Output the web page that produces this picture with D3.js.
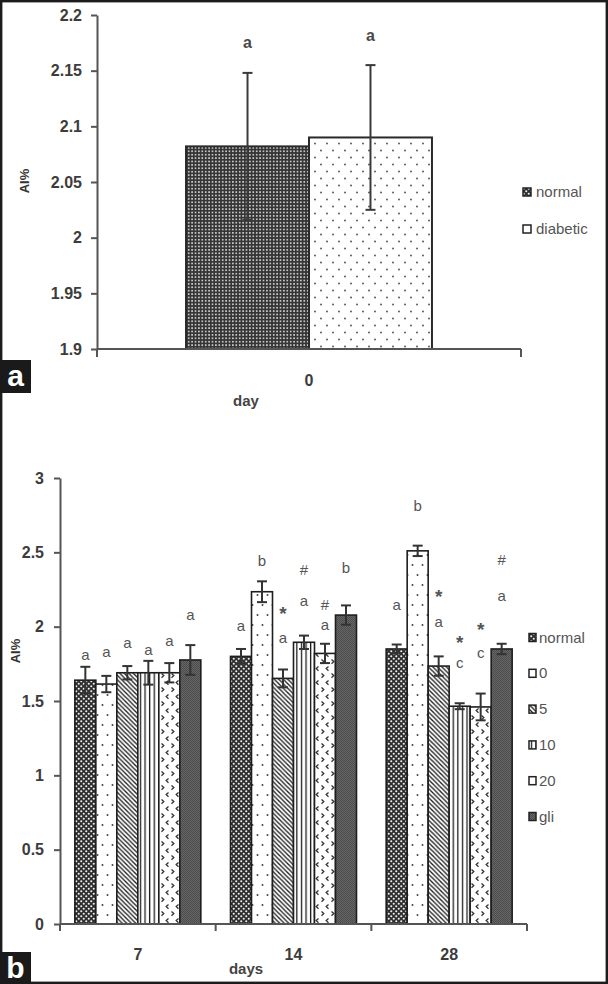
<!DOCTYPE html>
<html><head><meta charset="utf-8">
<script src="https://cdn.jsdelivr.net/npm/d3@7"></script>
<style>body{margin:0;background:#fff}svg{display:block}</style>
</head><body><svg id="c" width="608" height="984"></svg>
<script>
// ---------- Panel a data ----------
const aCategories = ["0"];
const aSeries = ["normal", "diabetic"];
const aValues = [2.082, 2.09];
const aErrors = [0.066, 0.065];
const aLetters = ["a", "a"];
const aLetterLevels = [2.175, 2.181];
const aTicks = [1.9, 1.95, 2, 2.05, 2.1, 2.15, 2.2];

// ---------- Panel b data ----------
const bDays = ["7", "14", "28"];
const bSeries = ["normal", "0", "5", "10", "20", "gli"];
const bNormal = [1.64, 1.80, 1.85];
const bNormalErr = [0.09, 0.05, 0.03];
const b0 = [1.614, 2.235, 2.51];
const b0Err = [0.055, 0.07, 0.035];
const b5 = [1.69, 1.652, 1.735];
const b5Err = [0.045, 0.06, 0.065];
const b10 = [1.69, 1.895, 1.465];
const b10Err = [0.08, 0.045, 0.02];
const b20 = [1.69, 1.82, 1.46];
const b20Err = [0.065, 0.065, 0.09];
const bGli = [1.776, 2.078, 1.85];
const bGliErr = [0.1, 0.065, 0.035];
const bTicks = [0, 0.5, 1, 1.5, 2, 2.5, 3];
// annotation letters per series per day: [text, level]
const bNotesNormal = [[["a", 1.81]], [["a", 2.0]], [["a", 2.145]]];
const bNotes0 = [[["a", 1.83]], [["b", 2.437]], [["b", 2.807]]];
const bNotes5 = [[["a", 1.89]], [["*", 2.125], ["a", 1.92]], [["*", 2.24], ["a", 2.033]]];
const bNotes10 = [[["a", 1.84]], [["#", 2.38], ["a", 2.168]], [["*", 1.932], ["c", 1.757]]];
const bNotes20 = [[["a", 1.90]], [["#", 2.145], ["a", 2.01]], [["*", 2.018], ["c", 1.82]]];
const bNotesGli = [[["a", 2.08]], [["b", 2.39]], [["#", 2.448], ["a", 2.206]]];

const bValues = [bNormal, b0, b5, b10, b20, bGli];
const bErrors = [bNormalErr, b0Err, b5Err, b10Err, b20Err, bGliErr];
const bNotes = [bNotesNormal, bNotes0, bNotes5, bNotes10, bNotes20, bNotesGli];

const svg = d3.select("#c");
const FONT = "'Liberation Sans', Arial, sans-serif";
const defs = svg.append("defs");

function pat(id, w, h, build) {
  const p = defs.append("pattern").attr("id", id).attr("patternUnits", "userSpaceOnUse")
    .attr("width", w).attr("height", h);
  build(p);
}
// panel a patterns
pat("pa-normal", 3.4, 3.4, p => {
  p.append("rect").attr("width", 3.4).attr("height", 3.4).attr("fill", "#353535");
  p.append("circle").attr("cx", 1.7).attr("cy", 1.7).attr("r", 0.85).attr("fill", "#f4f4f4");
});
pat("pa-dots", 12, 14, p => {
  p.append("rect").attr("width", 12).attr("height", 14).attr("fill", "#fff");
  p.append("circle").attr("cx", 3).attr("cy", 3.5).attr("r", 0.95).attr("fill", "#555");
  p.append("circle").attr("cx", 9).attr("cy", 10.5).attr("r", 0.95).attr("fill", "#555");
});
// panel b patterns
pat("pb-normal", 5, 5, p => {
  p.append("rect").attr("width", 5).attr("height", 5).attr("fill", "#2f2f2f");
  p.append("circle").attr("cx", 1.25).attr("cy", 1.25).attr("r", 1.05).attr("fill", "#eee");
  p.append("circle").attr("cx", 3.75).attr("cy", 3.75).attr("r", 1.05).attr("fill", "#eee");
});
pat("pb-dots", 10, 20, p => {
  p.append("rect").attr("width", 10).attr("height", 20).attr("fill", "#fff");
  p.append("circle").attr("cx", 2.5).attr("cy", 5).attr("r", 1).attr("fill", "#444");
  p.append("circle").attr("cx", 7.5).attr("cy", 15).attr("r", 1).attr("fill", "#444");
});
pat("pb-diag", 4.5, 4.5, p => {
  p.append("rect").attr("width", 4.5).attr("height", 4.5).attr("fill", "#fff");
  p.append("path").attr("d", "M-1,-1L5.5,5.5M-1,3.5L1,5.5M3.5,-1L5.5,1")
    .attr("stroke", "#1e1e1e").attr("stroke-width", 1.3);
});
pat("pb-vert", 4.6, 10, p => {
  p.append("rect").attr("width", 4.6).attr("height", 10).attr("fill", "#fff");
  p.append("rect").attr("x", 1.8).attr("width", 1.3).attr("height", 10).attr("fill", "#1e1e1e");
});
pat("pb-chev", 10, 14, p => {
  p.append("rect").attr("width", 10).attr("height", 14).attr("fill", "#fff");
  p.append("path").attr("d", "M1.5,1.5L3.8,3.6L1.5,5.7M8.5,8.5L6.2,10.6L8.5,12.7")
    .attr("stroke", "#333").attr("stroke-width", 1.3).attr("fill", "none");
});
pat("pb-gli", 2, 2, p => {
  p.append("rect").attr("width", 2).attr("height", 2).attr("fill", "#666");
  p.append("rect").attr("width", 1).attr("height", 1).attr("fill", "#4c4c4c");
  p.append("rect").attr("x", 1).attr("y", 1).attr("width", 1).attr("height", 1).attr("fill", "#4c4c4c");
});
const aFills = ["url(#pa-normal)", "url(#pa-dots)"];
const aLegendFills = ["url(#pb-normal)", "#fff"];
const bFills = ["url(#pb-normal)", "url(#pb-dots)", "url(#pb-diag)", "url(#pb-vert)", "url(#pb-chev)", "url(#pb-gli)"];
const bLegendFills = ["url(#pb-normal)", "#fff", "url(#pb-diag)", "url(#pb-vert)", "#fff", "url(#pb-gli)"];

// ================= Panel a =================
const aX0 = d3.scaleBand().domain(aCategories).range([97, 521]).paddingInner(0).paddingOuter(0);
const aX1 = d3.scaleBand().domain(aSeries).range([0, aX0.bandwidth()]).paddingInner(0).paddingOuter(0.724);
const aY = d3.scaleLinear().domain([1.9, 2.2]).range([349, 15]);

const gA = svg.append("g");
const aBars = aSeries.map((s, i) => ({s, v: aValues[i], e: aErrors[i], l: aLetters[i], lv: aLetterLevels[i], i}));
gA.selectAll("rect.bar").data(aBars).join("rect")
  .attr("x", d => aX0(aCategories[0]) + aX1(d.s))
  .attr("y", d => aY(d.v))
  .attr("width", aX1.bandwidth())
  .attr("height", d => aY(1.9) - aY(d.v))
  .attr("fill", d => aFills[d.i]).attr("stroke", "#2a2a2a").attr("stroke-width", 2);
aBars.forEach(d => {
  const cx = aX0(aCategories[0]) + aX1(d.s) + aX1.bandwidth() / 2;
  gA.append("line").attr("x1", cx).attr("x2", cx).attr("y1", aY(d.v + d.e)).attr("y2", aY(d.v - d.e))
    .attr("stroke", "#3a3a3a").attr("stroke-width", 2);
  gA.append("line").attr("x1", cx - 5).attr("x2", cx + 5).attr("y1", aY(d.v + d.e)).attr("y2", aY(d.v + d.e))
    .attr("stroke", "#3a3a3a").attr("stroke-width", 2);
  gA.append("line").attr("x1", cx - 5).attr("x2", cx + 5).attr("y1", aY(d.v - d.e)).attr("y2", aY(d.v - d.e))
    .attr("stroke", "#3a3a3a").attr("stroke-width", 2);
  gA.append("text").attr("x", cx).attr("y", aY(d.lv)).attr("dy", "0.32em").attr("text-anchor", "middle")
    .attr("font-family", FONT).attr("font-size", 16).attr("font-weight", "bold").attr("fill", "#4a4a4a").text(d.l);
});
// y axis
const aAxis = gA.append("g").attr("transform", "translate(97,0)")
  .call(d3.axisLeft(aY).tickValues(aTicks).tickSize(6).tickSizeOuter(0).tickPadding(9).tickFormat(d => String(d)));
aAxis.selectAll("path,line").attr("stroke", "#555").attr("stroke-width", 2);
aAxis.selectAll("text").attr("font-family", FONT).attr("font-size", 16).attr("font-weight", "bold").attr("fill", "#3c3c3c");
// x axis
gA.append("line").attr("x1", aX0.range()[0]).attr("x2", aX0.range()[1]).attr("y1", aY(1.9)).attr("y2", aY(1.9))
  .attr("stroke", "#555").attr("stroke-width", 2);
[aX0.range()[0], aX0.range()[1]].forEach(x => gA.append("line").attr("x1", x).attr("x2", x)
  .attr("y1", aY(1.9)).attr("y2", aY(1.9) + 8).attr("stroke", "#555").attr("stroke-width", 2));
aCategories.forEach(c => gA.append("text").attr("x", aX0(c) + aX0.bandwidth() / 2).attr("y", 386)
  .attr("text-anchor", "middle").attr("font-family", FONT).attr("font-size", 16).attr("font-weight", "bold")
  .attr("fill", "#3c3c3c").text(c));
gA.append("text").attr("x", 246).attr("y", 406).attr("text-anchor", "middle").attr("font-family", FONT)
  .attr("font-size", 15).attr("font-weight", "bold").attr("fill", "#444").text("day");
gA.append("text").attr("transform", "translate(29,181) rotate(-90)").attr("text-anchor", "middle")
  .attr("font-family", FONT).attr("font-size", 13).attr("font-weight", "bold").attr("fill", "#333").text("AI%");
// legend a
aSeries.forEach((s, i) => {
  const cy = 192 + i * 37;
  gA.append("rect").attr("x", 523).attr("y", cy - 4).attr("width", 8).attr("height", 8)
    .attr("fill", aLegendFills[i]).attr("stroke", "#222").attr("stroke-width", 1.5);
  gA.append("text").attr("x", 536).attr("y", cy + 5).attr("font-family", FONT).attr("font-size", 15)
    .attr("fill", "#555").text(s);
});

// ================= Panel b =================
const bX0 = d3.scaleBand().domain(bDays).range([60, 527]).paddingInner(0).paddingOuter(0);
const bX1 = d3.scaleBand().domain(bSeries).range([0, bX0.bandwidth()]).paddingInner(0).paddingOuter(0.707);
const bY = d3.scaleLinear().domain([0, 3]).range([924, 478]);
const gB = svg.append("g");
const bBars = [];
bSeries.forEach((s, si) => bDays.forEach((d, di) => bBars.push({
  s, si, d, v: bValues[si][di], e: bErrors[si][di], notes: bNotes[si][di]
})));
gB.selectAll("rect.bar").data(bBars).join("rect")
  .attr("x", d => bX0(d.d) + bX1(d.s))
  .attr("y", d => bY(d.v))
  .attr("width", bX1.bandwidth())
  .attr("height", d => bY(0) - bY(d.v))
  .attr("fill", d => bFills[d.si]).attr("stroke", "#1e1e1e").attr("stroke-width", 1.6);
bBars.forEach(d => {
  const cx = bX0(d.d) + bX1(d.s) + bX1.bandwidth() / 2;
  gB.append("line").attr("x1", cx).attr("x2", cx).attr("y1", bY(d.v + d.e)).attr("y2", bY(d.v - d.e))
    .attr("stroke", "#333").attr("stroke-width", 2);
  [d.v + d.e, d.v - d.e].forEach(v => gB.append("line").attr("x1", cx - 5).attr("x2", cx + 5)
    .attr("y1", bY(v)).attr("y2", bY(v)).attr("stroke", "#333").attr("stroke-width", 2));
  d.notes.forEach(n => gB.append("text").attr("x", cx).attr("y", bY(n[1]))
    .attr("dy", n[0] === "*" ? "0.62em" : "0.32em").attr("text-anchor", "middle")
    .attr("font-family", FONT).attr("font-size", n[0] === "*" ? 19 : 15)
    .attr("font-weight", n[0] === "*" ? "bold" : "normal").attr("fill", "#555").text(n[0]));
});
const bAxis = gB.append("g").attr("transform", "translate(60,0)")
  .call(d3.axisLeft(bY).tickValues(bTicks).tickSize(6).tickSizeOuter(0).tickPadding(10).tickFormat(d => String(d)));
bAxis.selectAll("path,line").attr("stroke", "#555").attr("stroke-width", 2);
bAxis.selectAll("text").attr("font-family", FONT).attr("font-size", 16).attr("font-weight", "bold").attr("fill", "#3c3c3c");
gB.append("line").attr("x1", bX0.range()[0]).attr("x2", bX0.range()[1]).attr("y1", bY(0)).attr("y2", bY(0))
  .attr("stroke", "#555").attr("stroke-width", 2);
bDays.map(d => bX0(d)).concat([bX0.range()[1]]).forEach(x => gB.append("line").attr("x1", x).attr("x2", x)
  .attr("y1", bY(0)).attr("y2", bY(0) + 7).attr("stroke", "#555").attr("stroke-width", 2));
bDays.forEach(c => gB.append("text").attr("x", bX0(c) + bX0.bandwidth() / 2).attr("y", 960)
  .attr("text-anchor", "middle").attr("font-family", FONT).attr("font-size", 16).attr("font-weight", "bold")
  .attr("fill", "#3c3c3c").text(c));
gB.append("text").attr("x", 246).attr("y", 974).attr("text-anchor", "middle").attr("font-family", FONT)
  .attr("font-size", 15).attr("font-weight", "bold").attr("fill", "#444").text("days");
gB.append("text").attr("transform", "translate(20,651) rotate(-90)").attr("text-anchor", "middle")
  .attr("font-family", FONT).attr("font-size", 13).attr("font-weight", "bold").attr("fill", "#333").text("AI%");
bSeries.forEach((s, i) => {
  const cy = 637.5 + i * 35.8;
  gB.append("rect").attr("x", 529).attr("y", cy - 4).attr("width", 7).attr("height", 8)
    .attr("fill", bLegendFills[i]).attr("stroke", "#222").attr("stroke-width", 1.5);
  gB.append("text").attr("x", 539).attr("y", cy + 5).attr("font-family", FONT).attr("font-size", 15)
    .attr("fill", "#555").text(s);
});

// ================= Frame & panel tags =================
svg.append("rect").attr("x", 1.2).attr("y", 1.2).attr("width", 605.6).attr("height", 981.6)
  .attr("fill", "none").attr("stroke", "#1c1c1c").attr("stroke-width", 2.4);
[["a", 360], ["b", 952]].forEach(([t, y]) => {
  svg.append("rect").attr("x", 0).attr("y", y).attr("width", 31).attr("height", 33).attr("fill", "#1a1a1a");
  svg.append("text").attr("x", 15.5).attr("y", y + 26).attr("text-anchor", "middle").attr("font-family", FONT)
    .attr("font-size", 30).attr("font-weight", "bold").attr("fill", "#fff").text(t);
});
</script></body></html>
